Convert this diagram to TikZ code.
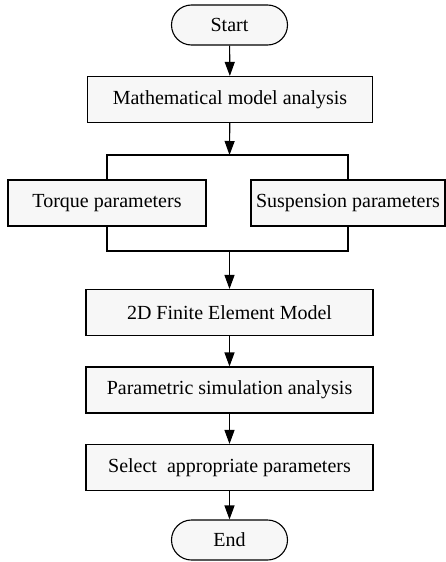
\documentclass[tikz,border=0pt]{standalone}
\usepackage{fontspec}
\setmainfont{Liberation Serif}
\usetikzlibrary{arrows.meta}
\definecolor{boxfill}{HTML}{F7F7F7}
\tikzset{
  x=1pt, y=-1pt,
  every node/.style={font=\fontsize{20}{23}\selectfont, inner sep=0pt},
  procbox/.style={draw, line width=1.1pt, fill=boxfill, minimum height=46pt},
  terminal/.style={draw, line width=1.1pt, fill=boxfill, rounded corners=20pt,
                   minimum width=116pt, minimum height=40pt},
  link/.style={line width=1.1pt},
  flow/.style={link, -{Triangle[length=14pt,width=10pt]}}
}
\begin{document}
\begin{tikzpicture}
\useasboundingbox (0,0) rectangle (446,562);
% main column
\node[terminal] (start) at (229.5,25) {Start};
\node[procbox, minimum width=285pt] (math) at (230,99.5) {Mathematical model analysis};
\node[procbox, minimum width=198pt] (tor) at (107,203) {Torque parameters};
\node[procbox, minimum width=194pt] (sus) at (348,203) {Suspension parameters};
\node[procbox, minimum width=287pt] (fe) at (229.5,312.5) {2D Finite Element Model};
\node[procbox, minimum width=287pt] (par) at (229.5,390) {Parametric simulation analysis};
\node[procbox, minimum width=287pt] (sel) at (229.5,467.5) {Select\ \ appropriate parameters};
\node[terminal] (end) at (229.5,540) {End};
% split and merge points
\coordinate (split) at (229.5,155);
\coordinate (merge) at (229.5,251);
% connectors
\draw[flow] (start) -- (math);
\draw[flow] (math) -- (split);
\draw[link] (tor.north) |- (split) -| (sus.north);
\draw[link] (tor.south) |- (merge) -| (sus.south);
\draw[flow] (merge) -- (fe);
\draw[flow] (fe) -- (par);
\draw[flow] (par) -- (sel);
\draw[flow] (sel) -- (end);
\end{tikzpicture}
\end{document}
